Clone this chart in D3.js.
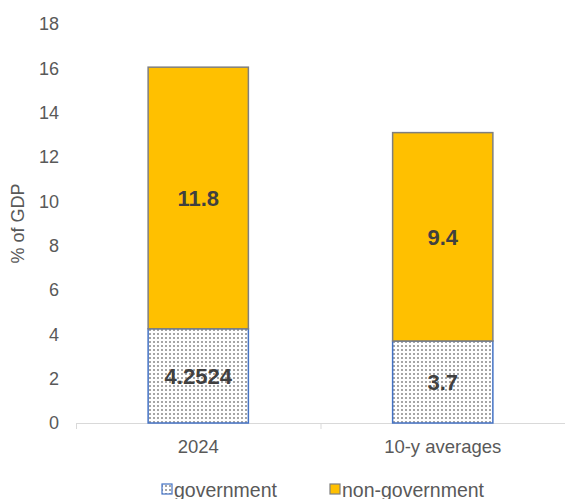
<!DOCTYPE html>
<html><head><meta charset="utf-8">
<script src="https://cdn.jsdelivr.net/npm/d3@7"></script>
<style>body{margin:0;background:#fff}svg{display:block;font-family:"Liberation Sans",Arial,sans-serif}</style>
</head><body><svg id="c" width="565" height="499"></svg>
<script>
const categories = ["2024", "10-y averages"];
const government = [4.2524, 3.7];
const nonGovernment = [11.8, 9.4];
const govLabels = ["4.2524", "3.7"];
const nonGovLabels = ["11.8", "9.4"];
const yTicks = [0, 2, 4, 6, 8, 10, 12, 14, 16, 18];
const seriesNames = ["government", "non-government"];

const svg = d3.select("#c");
const defs = svg.append("defs");
const pat = defs.append("pattern").attr("id","dots").attr("patternUnits","userSpaceOnUse")
  .attr("width",4).attr("height",4);
pat.append("rect").attr("width",4).attr("height",4).attr("fill","#fff");
pat.append("rect").attr("x",1).attr("y",1).attr("width",2).attr("height",2).attr("fill","#a6a6a6");

const pL = 76, pR = 565, pT = 24, pB = 423;
const x = d3.scaleBand().domain(categories).range([pL, pR]).paddingInner(0.59).paddingOuter(0.295);
const y = d3.scaleLinear().domain([0, 18]).range([pB, pT]);

// y tick labels
svg.append("g").selectAll("text").data(yTicks).join("text")
  .attr("x", 59).attr("y", d => y(d)).attr("dy","0.35em").attr("text-anchor","end")
  .attr("font-size", 18).attr("fill", "#595959").text(d => d);

svg.append("text").attr("transform", `translate(24,${(pT+pB)/2}) rotate(-90)`)
  .attr("text-anchor","middle").attr("font-size",18).attr("fill","#595959").text("% of GDP");

// axis line
const step = (pR-pL)/categories.length;
svg.append("line").attr("x1",pL).attr("x2",pR).attr("y1",pB+0.5).attr("y2",pB+0.5)
  .attr("stroke","#d9d9d9").attr("stroke-width",1);
svg.append("g").selectAll("line").data(d3.range(categories.length+1)).join("line")
  .attr("x1", i => pL + i*step + 0.5).attr("x2", i => pL + i*step + 0.5)
  .attr("y1", pB).attr("y2", pB+6).attr("stroke","#d9d9d9");

// bars
const g = svg.append("g");
categories.forEach((c,i) => {
  g.append("rect").attr("x", x(c)).attr("width", x.bandwidth())
    .attr("y", y(government[i])).attr("height", y(0)-y(government[i]))
    .attr("fill","url(#dots)").attr("stroke","#4472c4").attr("stroke-width",1.5);
  const tot = government[i] + nonGovernment[i];
  g.append("rect").attr("x", x(c)).attr("width", x.bandwidth())
    .attr("y", y(tot)).attr("height", y(government[i])-y(tot))
    .attr("fill","#ffc000").attr("stroke","#7f7f7f").attr("stroke-width",1.5);
  g.append("text").attr("x", x(c)+x.bandwidth()/2).attr("y", y(government[i]/2)).attr("dy","0.35em")
    .attr("text-anchor","middle").attr("font-size",22).attr("font-weight","bold").attr("fill","#404040")
    .text(govLabels[i]);
  g.append("text").attr("x", x(c)+x.bandwidth()/2).attr("y", y(government[i]+nonGovernment[i]/2)).attr("dy","0.35em")
    .attr("text-anchor","middle").attr("font-size",22).attr("font-weight","bold").attr("fill","#404040")
    .text(nonGovLabels[i]);
  svg.append("text").attr("x", x(c)+x.bandwidth()/2).attr("y", 447).attr("dy","0.35em")
    .attr("text-anchor","middle").attr("font-size",18.5).attr("fill","#595959").text(c);
});

// legend
const leg = [{x:162, fill:"url(#dots)", stroke:"#4472c4"}, {x:330, fill:"#ffc000", stroke:"#7f7f7f"}];
leg.forEach((l,i) => {
  svg.append("rect").attr("x", l.x).attr("y", 484).attr("width",10).attr("height",10)
    .attr("fill", l.fill).attr("stroke", l.stroke).attr("stroke-width",1.2);
  svg.append("text").attr("x", l.x+12).attr("y", 497).attr("font-size",19.5).attr("fill","#595959").text(seriesNames[i]);
});
</script></body></html>
